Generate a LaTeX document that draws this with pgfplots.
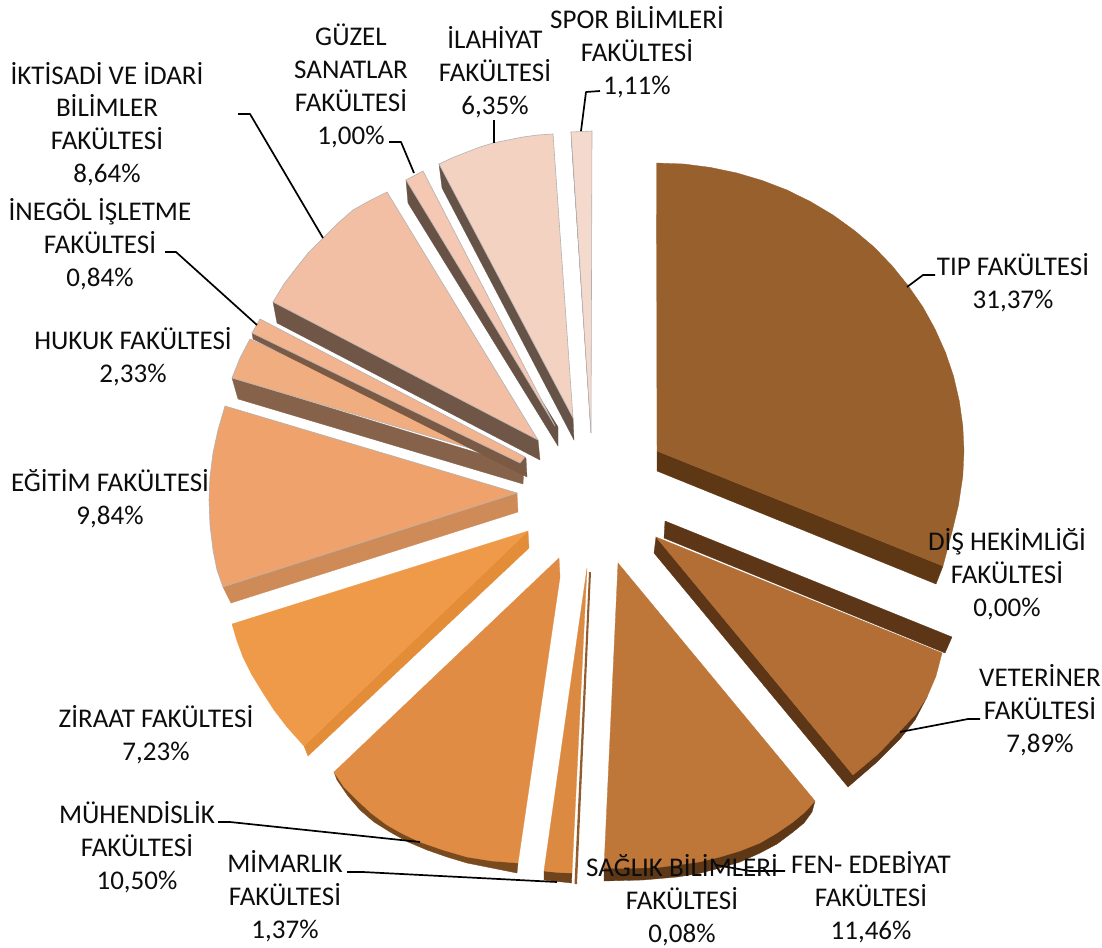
\documentclass[border=0pt]{standalone}
\usepackage{pgfplots}
\pgfplotsset{compat=1.18}
\usepackage{fontspec}
\setmainfont{Carlito}
\definecolor{tipT}{HTML}{98602D}\definecolor{tipS}{HTML}{5E3714}
\definecolor{vetT}{HTML}{B26E35}\definecolor{vetS}{HTML}{5C3617}
\definecolor{fenT}{HTML}{BE7738}\definecolor{fenS}{HTML}{5E3716}
\definecolor{sagT}{HTML}{CF8240}
\definecolor{mimT}{HTML}{DC8A42}\definecolor{mimS}{HTML}{6F431C}
\definecolor{muhT}{HTML}{E08C44}\definecolor{muhS}{HTML}{7A4A1F}
\definecolor{zirT}{HTML}{EE9A48}\definecolor{zirS}{HTML}{E48D39}
\definecolor{egiT}{HTML}{EFA26C}\definecolor{egiS}{HTML}{CE8A57}
\definecolor{hukT}{HTML}{F0AD80}\definecolor{hukS}{HTML}{86624A}
\definecolor{iinT}{HTML}{F2B48E}\definecolor{iinS}{HTML}{7A5A45}
\definecolor{ikiT}{HTML}{F3BFA4}\definecolor{ikiS}{HTML}{705647}
\definecolor{guzT}{HTML}{F4C8B2}\definecolor{guzS}{HTML}{685245}
\definecolor{ilaT}{HTML}{F4D2C1}\definecolor{ilaS}{HTML}{655347}
\definecolor{sprT}{HTML}{F4D9CD}\definecolor{sprS}{HTML}{7D6E66}
\newcommand{\lab}[2]{\node[align=center,font=\fontsize{27}{32.8}\selectfont,inner sep=0pt,text=black!95] at (axis cs:#1) {#2};}
\pgfplotsset{
 S/.style={fill=#1,draw=#1,line width=0.3pt},
 L/.style={fill=#1,draw=black!30,line width=0.6pt},
 lead/.style={black,line width=1.7pt,line join=round}
}
\begin{document}
\begin{tikzpicture}
\begin{axis}[scale only axis,width=1102pt,height=947pt,xmin=0,xmax=1102,ymin=0,ymax=947,y dir=reverse,hide axis,clip=false]
\addplot[draw=none,fill=white] coordinates {(0,0)(1102,0)(1102,947)(0,947)} --cycle;
% TIP
\addplot[S=tipS] coordinates {(657,451)(943,566)(936,584)(657,471)} --cycle;
\addplot[S=tipT] coordinates {(656.5,163)(684,164)(710.3,167.4)(737,173)(762,180.4)(787,190)(810.5,201.6)(833,215)(854.3,230.4)(874,247)(892.2,265.9)(908,285.5)(922.9,307)(935,329)(945.5,352.5)(953.5,376)(959.3,401)(962.8,426)(964,451)(962.8,476)(958.5,505)(952.5,530)(943,566)(657,451)} --cycle;
% DIS
\addplot[S=vetS] coordinates {(665,521)(952,637)(945,653)(664,538)} --cycle;
% VET
\addplot[S=vetS] coordinates {(656,537)(654,553)(848,787)(877,762)(900,739)(915,720)(927,697)(853,775)} --cycle;
\addplot[S=vetT] coordinates {(656,537)(942,653)(936,676)(927,697)(915,715)(900,731)(878,754)(853,775)} --cycle;
% FEN
\addplot[S=fenS] coordinates {(604,868)(604,881)(643,880)(677,877)(699,873.5)(720,868)(740,862)(760,853)(777,844)(793,832)(804,823)(812,812)(815,801)} --cycle;
\addplot[S=fenT] coordinates {(618,563)(815,801)(805,812)(793,822)(777,833)(760,843)(740,851)(720,857)(699,862)(677,865)(658,867.5)(640,868)(622,868.5)(604,868)} --cycle;
% SAGLIK
\addplot[fill=sagT!70!black,draw=none] coordinates {(589,572)(591,572)(577,884)(574.5,884)} --cycle;
% MIMARLIK
\addplot[S=mimS] coordinates {(544,871)(572,873)(571.5,883)(544,880)} --cycle;
\addplot[S=mimT] coordinates {(587,568)(572,873)(558,872.5)(544,871)} --cycle;
% MUHENDISLIK
\addplot[S=muhS] coordinates {(334,772)(337,780)(348,796)(360,810)(374,822)(390,832)(408,842)(427,850)(447,857)(467,863)(492,868)(517,873)(518,863)} --cycle;
\addplot[S=muhT] coordinates {(559,558)(560,577)(518,863)(492,861)(467,857)(443,850)(420,842)(403,834)(387,825)(371,813)(357,800)(344,787)(334,772)} --cycle;
% ZIRAAT
\addplot[S=zirS] coordinates {(528,531)(529,548)(308,756)(304,746)} --cycle;
\addplot[S=zirT] coordinates {(528,531)(232,624)(237,641)(243,657)(252,675)(263,693)(274,710)(287,727)(304,746)} --cycle;
% EGITIM
\addplot[S=egiS] coordinates {(517,493)(518,512)(231,603)(223,587)} --cycle;
\addplot[L=egiT] coordinates {(517,493)(225,406)(218,430)(213,453)(210,477)(209,500)(210,525)(213,550)(217,570)(223,587)} --cycle;
% HUKUK
\addplot[S=hukS] coordinates {(232,378)(238,399)(523,484)(524,467)} --cycle;
\addplot[L=hukT] coordinates {(520,463)(250,339)(240,358)(232,378)} --cycle;
% INEGOL
\addplot[S=iinS] coordinates {(252,333)(253,339)(527,477)(526,458)} --cycle;
\addplot[L=iinT] coordinates {(260,319)(252,333)(520,463)(525,457)} --cycle;
% IKTISADI
\addplot[S=ikiS] coordinates {(273,302)(277,323)(540,460)(538,440)} --cycle;
\addplot[L=ikiT] coordinates {(387,192)(369,201)(353,210)(337,224)(323,238)(309,252)(297,267)(284,284)(273,302)(538,440)} --cycle;
% GUZEL
\addplot[S=guzS] coordinates {(406,180)(408,203)(558,446)(558,427)} --cycle;
\addplot[L=guzT] coordinates {(423,171)(406,180)(555,426)} --cycle;
% ILAHIYAT
\addplot[S=ilaS] coordinates {(439,164)(442,188)(574,440)(573,418)} --cycle;
\addplot[L=ilaT] coordinates {(553,134)(538,135)(523,137)(508,140)(493,143)(480,147)(467,152)(453,157.5)(439,164)(573,418)} --cycle;
% SPOR
\addplot[S=sprS] coordinates {(571,132)(572,150)(591,433)} --cycle;
\addplot[L=sprT] coordinates {(571,132)(592,131)(591,433)} --cycle;
% leaders
\addplot[lead] coordinates {(907,287)(923,275)(935,275)};
\addplot[lead] coordinates {(494,143)(494,120)};
\addplot[lead] coordinates {(581,131)(586,92)(600,91)};
\addplot[lead] coordinates {(414,173)(401,142)(389,142)};
\addplot[lead] coordinates {(238,114)(250,114)(323,238)};
\addplot[lead] coordinates {(165,252)(176,252)(257,325)};
\addplot[lead] coordinates {(900,732)(968,719)(980,719)};
\addplot[lead] coordinates {(716,865)(750,871)(785,871)};
\addplot[lead] coordinates {(347,872)(363,872)(557,882)};
\addplot[lead] coordinates {(218,822)(230,822)(420,842)};
% labels
\lab{1013,283}{TIP FAKÜLTESİ\\31,37\%}
\lab{1007,574}{DİŞ HEKİMLİĞİ\\FAKÜLTESİ\\0,00\%}
\lab{1040,710}{VETERİNER\\FAKÜLTESİ\\7,89\%}
\lab{871,897}{FEN- EDEBİYAT\\FAKÜLTESİ\\11,46\%}
\lab{682,900}{SAĞLIK BİLİMLERİ\\FAKÜLTESİ\\0,08\%}
\lab{285,896}{MİMARLIK\\FAKÜLTESİ\\1,37\%}
\lab{137,847}{MÜHENDİSLİK\\FAKÜLTESİ\\10,50\%}
\lab{156,735}{ZİRAAT FAKÜLTESİ\\7,23\%}
\lab{110,499}{EĞİTİM FAKÜLTESİ\\9,84\%}
\lab{133,357}{HUKUK FAKÜLTESİ\\2,33\%}
\lab{100,244}{İNEGÖL İŞLETME\\FAKÜLTESİ\\0,84\%}
\lab{107,124}{İKTİSADİ VE İDARİ\\BİLİMLER\\FAKÜLTESİ\\8,64\%}
\lab{351,86}{GÜZEL\\SANATLAR\\FAKÜLTESİ\\1,00\%}
\lab{495,72}{İLAHİYAT\\FAKÜLTESİ\\6,35\%}
\lab{637,52}{SPOR BİLİMLERİ\\FAKÜLTESİ\\1,11\%}
\end{axis}
\end{tikzpicture}
\end{document}
